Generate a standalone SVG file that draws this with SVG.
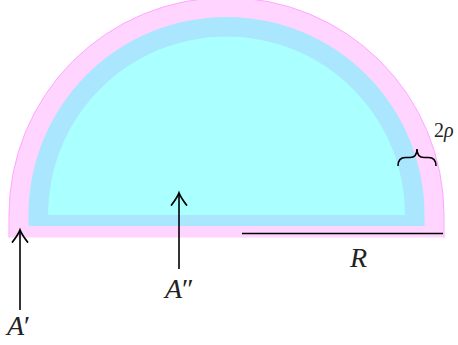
<svg xmlns="http://www.w3.org/2000/svg" width="458" height="345" viewBox="0 0 458 345">
  <style>
    .math { font-family: "Liberation Serif", "DejaVu Serif", serif; font-style: italic; fill: #222; }
    .rm { font-family: "Liberation Serif", "DejaVu Serif", serif; font-style: normal; fill: #222; }
    .line { stroke: #000; stroke-width: 1.6; fill: none; }
  </style>
  <defs>
    <marker id="arr" markerUnits="userSpaceOnUse" markerWidth="20" markerHeight="20" viewBox="-14 -10 16 20" refX="0" refY="0" orient="auto">
      <path d="M -12,-7.5 Q -4,-1.5 0,0 Q -4,1.5 -12,7.5" fill="none" stroke="#000" stroke-width="1.8" stroke-linecap="round"/>
    </marker>
  </defs>
  <g id="outer-band">
    <path d="M9,215 A217.5,217.5 0 0 1 444,215 L444,237.5 L9,237.5 Z" fill="#ffd4ff"/>
    <path d="M9,237.5 L9,215 A217.5,217.5 0 0 1 444,215 L444,237.5" fill="none" stroke="#ffa6ff" stroke-width="1"/>
  </g>
  <g id="middle-band">
    <path d="M28.5,215 A198,198 0 0 1 424.5,215 L424.5,226 L28.5,226 Z" fill="#aae6fd"/>
  </g>
  <g id="inner-region">
    <path d="M48,215 A178.5,178.5 0 0 1 405,215 Z" fill="#aaffff"/>
  </g>
  <g id="connectors">
    <line class="line" x1="20" y1="310" x2="20" y2="230" marker-end="url(#arr)"/>
    <line class="line" x1="179" y1="269" x2="179" y2="193" marker-end="url(#arr)"/>
    <line class="line" x1="242" y1="233.5" x2="443" y2="233.5"/>
    <path class="line" stroke-width="2.8" d="M398,166 Q398,157.5 405.5,157.5 L410,157.5 Q417,157.5 417,149 Q417,157.5 424,157.5 L428.5,157.5 Q436,157.5 436,166"/>
  </g>
  <g id="label-A1">
    <text class="math" x="7" y="335" font-size="28">A<tspan class="rm">′</tspan></text>
  </g>
  <g id="label-A2">
    <text class="math" x="165" y="298" font-size="28">A<tspan class="rm">″</tspan></text>
  </g>
  <g id="label-R">
    <text class="math" x="350" y="267" font-size="28">R</text>
  </g>
  <g id="label-2rho">
    <text class="rm" x="434" y="137" font-size="20">2<tspan class="math">ρ</tspan></text>
  </g>
</svg>
